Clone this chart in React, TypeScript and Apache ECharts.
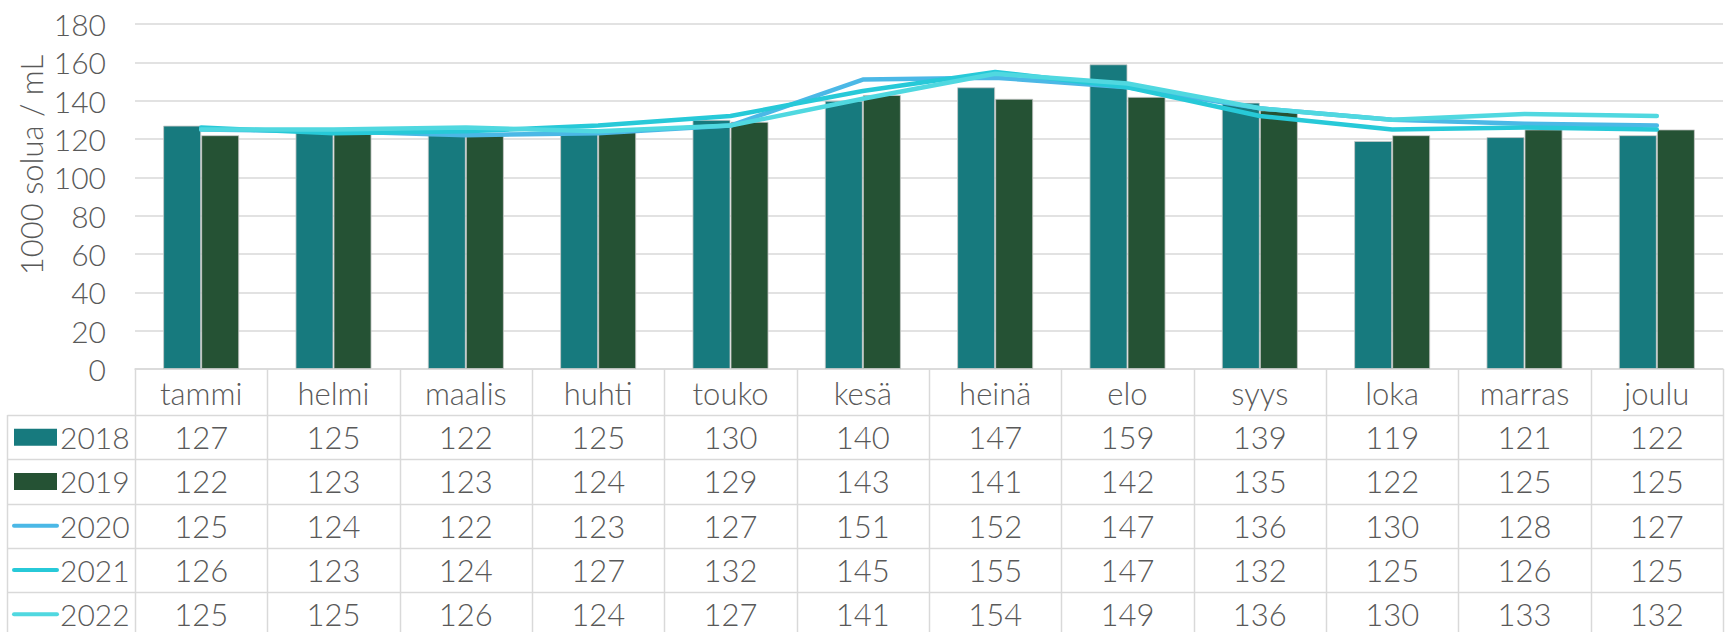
import React, { useEffect, useRef } from "react";
import * as echarts from "echarts";

const categories = ["tammi", "helmi", "maalis", "huhti", "touko", "kesä", "heinä", "elo", "syys", "loka", "marras", "joulu"];
const seriesNames = ["2018", "2019", "2020", "2021", "2022"];
const v2018 = [127, 125, 122, 125, 130, 140, 147, 159, 139, 119, 121, 122];
const v2019 = [122, 123, 123, 124, 129, 143, 141, 142, 135, 122, 125, 125];
const v2020 = [125, 124, 122, 123, 127, 151, 152, 147, 136, 130, 128, 127];
const v2021 = [126, 123, 124, 127, 132, 145, 155, 147, 132, 125, 126, 125];
const v2022 = [125, 125, 126, 124, 127, 141, 154, 149, 136, 130, 133, 132];
const allValues = [v2018, v2019, v2020, v2021, v2022];
const seriesKinds = ["bar", "bar", "line", "line", "line"];
const colors = ["#177A7E", "#255234", "#4BB8E6", "#27C9D8", "#50D8E0"];
const yTicks = { min: 0, max: 180, interval: 20 };
const axisTitle = "1000 solua / mL";

const W = 1729;
const H = 632;
const gridLeft = 135;
const gridRight = 1723;
const gridTop = 24;
const gridBottom = 369;
const headerBottom = 415;
const rowH = 44.3;
const tableLeft = 7.5;
const textColor = "#595959";
const lineColor = "#D9D9D9";
const fontFamily = "Lato, 'Noto Sans', sans-serif";
const fontSize = 31;
const fontWeight = 300;

function buildTable(): any[] {
  const els: any[] = [];
  const cw = (gridRight - gridLeft) / categories.length;
  const bottom = H + 10;
  const font = `${fontWeight} ${fontSize}px ${fontFamily}`;
  for (let k = 0; k <= categories.length; k++) {
    const x = Math.round(gridLeft + k * cw) + 0.5;
    els.push({ type: "line", shape: { x1: x, y1: gridBottom, x2: x, y2: bottom }, style: { stroke: lineColor, lineWidth: 1.5 }, silent: true });
  }
  els.push({ type: "line", shape: { x1: tableLeft, y1: headerBottom, x2: tableLeft, y2: bottom }, style: { stroke: lineColor, lineWidth: 1.5 }, silent: true });
  for (let r = 0; r <= seriesNames.length; r++) {
    const y = Math.round(headerBottom + r * rowH) + 0.5;
    els.push({ type: "line", shape: { x1: tableLeft, y1: y, x2: gridRight, y2: y }, style: { stroke: lineColor, lineWidth: 1.5 }, silent: true });
  }
  categories.forEach((c, i) => {
    els.push({
      type: "text",
      x: gridLeft + (i + 0.5) * cw,
      y: (gridBottom + headerBottom) / 2 + 1,
      style: { text: c, fill: textColor, font, align: "center", verticalAlign: "middle" },
      silent: true,
    });
  });
  seriesNames.forEach((name, r) => {
    const cy = headerBottom + (r + 0.5) * rowH;
    if (seriesKinds[r] === "bar") {
      els.push({ type: "rect", shape: { x: 14, y: cy - 8.5, width: 43, height: 17 }, style: { fill: colors[r] }, silent: true });
    } else {
      els.push({ type: "line", shape: { x1: 14, y1: cy, x2: 57, y2: cy }, style: { stroke: colors[r], lineWidth: 4, lineCap: "round" }, silent: true });
    }
    els.push({
      type: "text",
      x: 60,
      y: cy,
      style: { text: name, fill: textColor, font: `${fontWeight} 30px ${fontFamily}`, align: "left", verticalAlign: "middle" },
      silent: true,
    });
    allValues[r].forEach((v, i) => {
      els.push({
        type: "text",
        x: gridLeft + (i + 0.5) * cw,
        y: cy,
        style: { text: String(v), fill: textColor, font, align: "center", verticalAlign: "middle" },
        silent: true,
      });
    });
  });
  els.push({
    type: "text",
    x: 31,
    y: 165,
    rotation: Math.PI / 2,
    style: { text: axisTitle, fill: textColor, font: `${fontWeight} 31px ${fontFamily}`, align: "center", verticalAlign: "middle" },
    silent: true,
  });
  return els;
}

export default function App() {
  const ref = useRef<HTMLDivElement>(null);
  useEffect(() => {
    if (!ref.current) return;
    const chart = echarts.init(ref.current, undefined, { renderer: "svg" });
    const series: any[] = seriesNames.map((name, r) => {
      if (seriesKinds[r] === "bar") {
        return {
          name,
          type: "bar",
          data: allValues[r],
          barGap: "0%",
          barCategoryGap: "42.5%",
          itemStyle: { color: colors[r], borderColor: "rgba(200,200,200,0.8)", borderWidth: 1 },
          z: 2,
        };
      }
      return {
        name,
        type: "line",
        data: allValues[r],
        symbol: "none",
        lineStyle: { color: colors[r], width: 4.5, join: "round", cap: "round" },
        itemStyle: { color: colors[r] },
        z: 3 + r,
      };
    });
    chart.setOption({
      animation: false,
      backgroundColor: "#ffffff",
      grid: { left: gridLeft, right: W - gridRight, top: gridTop, bottom: H - gridBottom, containLabel: false },
      xAxis: {
        type: "category",
        data: categories,
        axisLine: { show: true, lineStyle: { color: lineColor, width: 1.5 } },
        axisTick: { show: false },
        axisLabel: { show: false },
        splitLine: { show: false },
      },
      yAxis: {
        type: "value",
        min: yTicks.min,
        max: yTicks.max,
        interval: yTicks.interval,
        axisLine: { show: false },
        axisTick: { show: false },
        axisLabel: { color: textColor, fontSize: 30, fontWeight, fontFamily, margin: 29 },
        splitLine: { lineStyle: { color: lineColor, width: 1.5 } },
      },
      series,
      graphic: buildTable(),
    });
    return () => chart.dispose();
  }, []);
  return <div ref={ref} style={{ position: "fixed", left: 0, top: 0, width: W, height: H }} />;
}
